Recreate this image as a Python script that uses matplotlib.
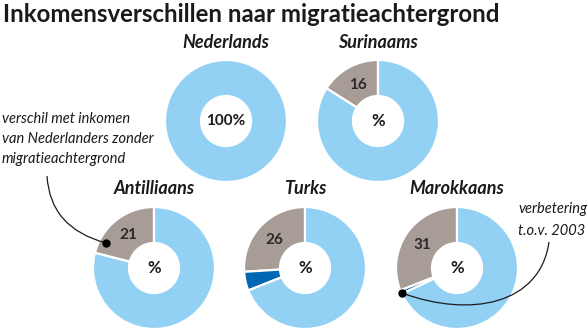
import math
import matplotlib.pyplot as plt
from matplotlib.path import Path
from matplotlib.patches import PathPatch

W, H = 588, 334

GROUPS = ["Nederlands", "Surinaams", "Antilliaans", "Turks", "Marokkaans"]
VERSCHIL = [0, 16, 21, 26, 31]      # % lower income than Dutch without migration background
VERBETERING = [0, 0, 0, 5, 1]       # improvement vs 2003

LIGHT = "#92d1f3"
GREY = "#a89c96"
DARK = "#0067b4"

# pixel layout (y measured from top)
CENTERS = [(226, 121), (378, 121), (154, 268), (305, 268), (457, 268)]
RADIUS = 61
HOLE = 0.41

FONT = "Lato"


def py(y):
    return H - y


fig = plt.figure(figsize=(W / 100, H / 100), dpi=100)
ax = fig.add_axes([0, 0, 1, 1])

for name, vs, vb, (cx, cy) in zip(GROUPS, VERSCHIL, VERBETERING, CENTERS):
    parts = [(vs, GREY), (vb, DARK), (100 - vs - vb, LIGHT)]
    parts = [p for p in parts if p[0] > 0]
    ax.pie([p[0] for p in parts], colors=[p[1] for p in parts],
           center=(cx, py(cy)), radius=RADIUS, startangle=90,
           counterclock=True,
           wedgeprops=dict(width=RADIUS * (1 - HOLE), edgecolor="white", lw=1.6))

    ax.text(cx, py(cy - 79), name, ha="center", va="center", fontsize=13,
            fontweight="bold", style="italic", family=FONT, color="#1a1a1a")

    center_lbl = "100%" if vs == 0 else "%"
    ax.text(cx, py(cy), center_lbl, ha="center", va="center",
            fontsize=11 if vs == 0 else 12,
            fontweight="bold", family=FONT, color="#1a1a1a")

    if vs > 0:
        ang = math.radians(90 + vs * 3.6 / 2)
        r = RADIUS * 0.68
        ax.text(cx + r * math.cos(ang), py(cy) + r * math.sin(ang), str(vs),
                ha="center", va="center", fontsize=11, fontweight="bold",
                family=FONT, color="#2a2a2a")

ax.text(3, py(14), "Inkomensverschillen naar migratieachtergrond", ha="left",
        va="center", fontsize=17.3, fontweight="bold", family=FONT, color="#1a1a1a")

ax.text(2, py(139), "verschil met inkomen\nvan Nederlanders zonder\nmigratieachtergrond",
        ha="left", va="center", fontsize=10.5, style="italic", family=FONT,
        linespacing=1.55, color="#1a1a1a")

ax.text(518, py(220), "verbetering\nt.o.v. 2003", ha="left", va="center",
        fontsize=10.5, style="italic", family=FONT, linespacing=1.7, color="#1a1a1a")

# leader lines
left = Path([(47, py(176)), (50, py(228)), (106, py(243))],
            [Path.MOVETO, Path.CURVE3, Path.CURVE3])
ax.add_patch(PathPatch(left, fill=False, lw=0.9, color="#1a1a1a"))
ax.plot(106, py(243), "o", ms=5, color="black")

right = Path([(402, py(293)), (470, py(318)), (540, py(305)), (549, py(242))],
             [Path.MOVETO, Path.CURVE4, Path.CURVE4, Path.CURVE4])
ax.add_patch(PathPatch(right, fill=False, lw=0.9, color="#1a1a1a"))
ax.plot(402, py(293), "o", ms=5, color="black")

ax.set_xlim(0, W)
ax.set_ylim(0, H)
ax.set_aspect("equal")
ax.axis("off")

fig.savefig("out.png", dpi=100)
